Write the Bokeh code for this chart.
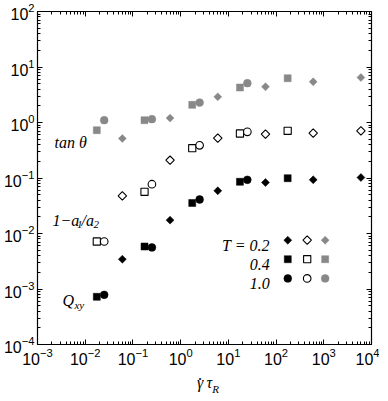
import math
from bokeh.plotting import figure
from bokeh.models import LogAxis, Label, Range1d, LogTicker, CustomJSTickFormatter
from bokeh.embed import file_html
from bokeh.resources import INLINE

# ---------------- data ----------------
# shear rate gamma_dot * tau_R for the three temperatures
x_T02 = [0.06, 0.6, 6.0, 60.0, 600.0, 6000.0]
x_T04 = [0.0175, 0.175, 1.75, 17.5, 175.0]
x_T10 = [0.025, 0.25, 2.5, 25.0]

# tan(theta)  (gray symbols)
tan_T02 = [0.515, 1.20, 2.90, 4.40, 5.41, 6.47]
tan_T04 = [0.726, 1.10, 2.08, 4.27, 6.28]
tan_T10 = [1.10, 1.15, 2.29, 5.11]

# 1 - a1/a2  (open symbols)
ani_T02 = [0.0478, 0.209, 0.521, 0.615, 0.641, 0.708]
ani_T04 = [0.00718, 0.0564, 0.344, 0.634, 0.708]
ani_T10 = [0.00718, 0.0773, 0.388, 0.679]

# Q_xy  (black symbols)
qxy_T02 = [0.00344, 0.0174, 0.0588, 0.083, 0.0929, 0.102]
qxy_T04 = [0.000723, 0.00583, 0.0355, 0.0855, 0.0991]
qxy_T10 = [0.000785, 0.0056, 0.041, 0.0929]

temps = ["T = 0.2", "0.4", "1.0"]

# ---------------- styling ----------------
GRAY = "#888888"
SERIF = "Liberation Serif"
SANS = "Liberation Sans"
NBSP = "\u00a0"

p = figure(x_axis_type="log", y_axis_type="log",
           x_range=Range1d(1e-3, 1e4), y_range=Range1d(1e-4, 1e2),
           frame_width=334, frame_height=333,
           min_border_left=30, min_border_right=8, min_border_top=11,
           min_border_bottom=40,
           output_backend="svg", toolbar_location=None)
p.grid.visible = False
p.outline_line_color = None
p.background_fill_color = "white"
p.border_fill_color = "white"

xt = LogTicker(desired_num_ticks=8, num_minor_ticks=10)
yt = LogTicker(desired_num_ticks=7, num_minor_ticks=10)
p.xaxis.ticker = xt
p.yaxis.ticker = yt

def style_axis(ax, labels=True):
    ax.axis_line_color = "black"
    ax.axis_line_width = 1.2
    ax.major_tick_in = 5
    ax.major_tick_out = 0
    ax.minor_tick_in = 3
    ax.minor_tick_out = 0
    ax.major_tick_line_color = "black"
    ax.minor_tick_line_color = "black"
    ax.major_tick_line_width = 1
    ax.minor_tick_line_width = 1
    if labels:
        ax.major_label_text_font = SANS
        ax.major_label_text_font_size = "16px"
        ax.major_label_text_color = "black"
        ax.major_label_standoff = 3

for ax in p.xaxis + p.yaxis:
    style_axis(ax)

# x-axis title: gamma tau (the dot above gamma and the subscript R are drawn
# as titles of bare helper axes stacked below the main one)
xa = p.xaxis[0]
xa.axis_label = "γ\u2009τ"
xa.axis_label_text_font = SERIF
xa.axis_label_text_font_style = "italic"
xa.axis_label_text_font_size = "16px"
xa.axis_label_text_color = "black"
xa.axis_label_standoff = 6

top = LogAxis(ticker=xt, formatter=CustomJSTickFormatter(code="return ''"),
              major_label_standoff=0, major_label_text_font_size="1px")
right = LogAxis(ticker=yt, formatter=CustomJSTickFormatter(code="return ''"),
                major_label_standoff=0, major_label_text_font_size="1px")
style_axis(top, labels=False)
style_axis(right, labels=False)
p.add_layout(top, "above")
p.add_layout(right, "right")

def helper_axis(label, size, standoff):
    return LogAxis(ticker=xt, formatter=CustomJSTickFormatter(code="return ''"),
                   major_label_standoff=0, major_label_text_font_size="1px",
                   axis_line_color=None, major_tick_line_color=None,
                   minor_tick_line_color=None, major_tick_in=0, major_tick_out=0,
                   minor_tick_in=0, minor_tick_out=0,
                   axis_label=label, axis_label_text_font=SERIF,
                   axis_label_text_font_style="normal",
                   axis_label_text_font_size=size, axis_label_text_color="black",
                   axis_label_standoff=standoff)

r_ax = helper_axis(NBSP * 8 + "R", "11px", -11)
r_ax.axis_label_text_font_style = "italic"
p.add_layout(r_ax, "below")
p.add_layout(helper_axis("˙" + NBSP * 2, "18px", -23), "below")

# ---------------- markers ----------------
D_ANG = math.pi / 4

def draw(xs, ys, kind, mode):
    kw = dict(x=xs, y=ys)
    if kind == "diamond":
        kw.update(marker="square", angle=D_ANG, size=5.6 if mode != "open" else 6.0)
    elif kind == "square":
        kw.update(marker="square", size=7 if mode != "open" else 7.2)
    else:
        kw.update(marker="circle", size=7.8 if mode != "open" else 7.6)
    if mode == "black":
        kw.update(fill_color="black", line_color="black", line_width=0.5)
    elif mode == "gray":
        kw.update(fill_color=GRAY, line_color=GRAY, line_width=0.5)
    else:
        kw.update(fill_color="white", line_color="black", line_width=1.1)
    p.scatter(**kw)

draw(x_T02, tan_T02, "diamond", "gray")
draw(x_T04, tan_T04, "square", "gray")
draw(x_T10, tan_T10, "circle", "gray")
draw(x_T02, ani_T02, "diamond", "open")
draw(x_T04, ani_T04, "square", "open")
draw(x_T10, ani_T10, "circle", "open")
draw(x_T02, qxy_T02, "diamond", "black")
draw(x_T04, qxy_T04, "square", "black")
draw(x_T10, qxy_T10, "circle", "black")

# ---------------- legend (custom 3x3 grid) ----------------
LEG_X = [176.0, 449.0, 1069.0]
LEG_Y = [7.57e-3, 3.44e-3, 1.55e-3]
kinds = ["diamond", "square", "circle"]
modes = ["black", "open", "gray"]
for r, kind in enumerate(kinds):
    for c, mode in enumerate(modes):
        draw([LEG_X[c]], [LEG_Y[r]], kind, mode)
    p.add_layout(Label(x=LEG_X[0], y=LEG_Y[r], x_offset=-18, y_offset=-5.5,
                       text=temps[r], text_align="right", text_baseline="alphabetic",
                       text_font=SERIF, text_font_style="italic",
                       text_font_size="16px", text_color="black"))

# ---------------- in-plot labels ----------------
def lab(x, y, text, dx=0, dy=0, size="16px"):
    p.add_layout(Label(x=x, y=y, x_offset=dx, y_offset=dy, text=text,
                       text_align="left", text_baseline="alphabetic",
                       text_font=SERIF, text_font_style="italic",
                       text_font_size=size, text_color="black"))

# tan theta
lab(0.00227, 0.436, "tan θ")
# 1 - a1/a2
lab(0.00206, 0.0171, "1−a")
lab(0.00206, 0.0171, "1", dx=24.5, dy=-4, size="11px")
lab(0.00206, 0.0171, "/a", dx=29, dy=0)
lab(0.00206, 0.0171, "2", dx=41, dy=-4, size="11px")
# Q_xy
lab(0.00334, 6.2e-4, "Q")
lab(0.00334, 6.2e-4, "xy", dx=12, dy=-4, size="11px")

open("out.html", "w").write(file_html(p, INLINE))
